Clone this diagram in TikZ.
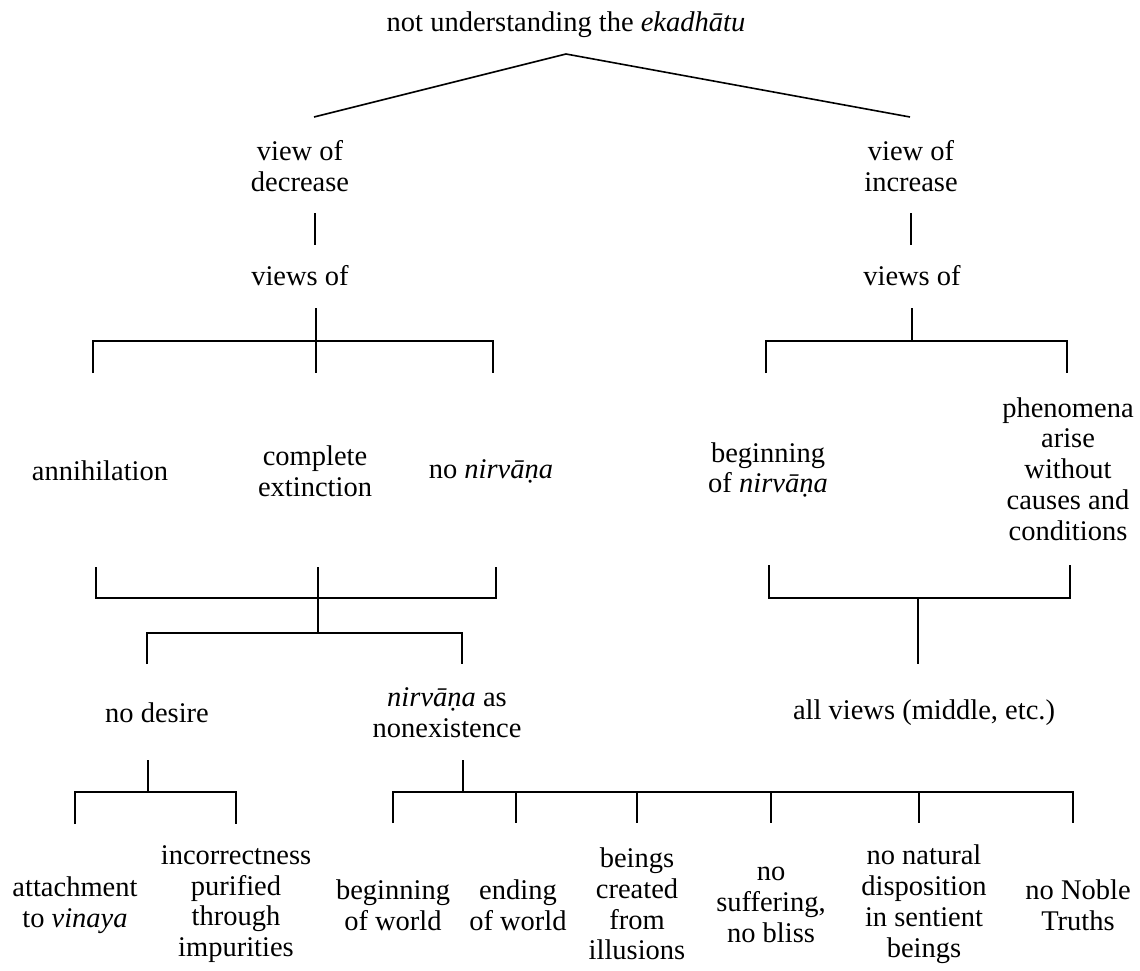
\documentclass[tikz,border=0pt]{standalone}
\usepackage{fontspec}
\setmainfont{Liberation Serif}
\usepackage{tikz}

\tikzset{lbl/.style={align=center, inner sep=0pt, font=\fontsize{14.25}{15.4}\selectfont}}

\begin{document}
\begin{tikzpicture}[x=0.5pt, y=-0.5pt, line width=0.8pt]
\useasboundingbox (0,0) rectangle (1140,970);

\node[lbl] (top) at (566,25) {not understanding the \textit{ekadhātu}};
\node[lbl] (dec) at (300,166) {view of\\decrease};
\node[lbl] (inc) at (911,166) {view of\\increase};
\node[lbl] (decv) at (300,276) {views of};
\node[lbl] (incv) at (912,276) {views of};
\node[lbl] (ann) at (100,471) {annihilation};
\node[lbl] (ext) at (315,471) {complete\\extinction};
\node[lbl] (nonirv) at (491,471) {no \textit{nirvāṇa}};
\node[lbl] (beg) at (768,470) {beginning\\of \textit{nirvāṇa}};
\node[lbl] (phen) at (1068,469) {phenomena\\arise\\without\\causes and\\conditions};
\node[lbl] (nodes) at (157,713) {no desire};
\node[lbl] (nonex) at (447,713) {\textit{nirvāṇa} as\\nonexistence};
\node[lbl] (allv) at (924,713) {all views (middle, etc.)};
\node[lbl] (attach) at (75,905) {attachment\\to \textit{vinaya}};
\node[lbl] (incorr) at (236,904) {incorrectness\\purified\\through\\impurities};
\node[lbl] (begw) at (393,905) {beginning\\of world};
\node[lbl] (endw) at (518,905) {ending\\of world};
\node[lbl] (beings) at (637,904) {beings\\created\\from\\illusions};
\node[lbl] (nosuf) at (771,905) {no\\suffering,\\no bliss};
\node[lbl] (nonat) at (924,904) {no natural\\disposition\\in sentient\\beings};
\node[lbl] (noble) at (1078,905) {no Noble\\Truths};

% line ends
\foreach \n/\x/\y in {t0/566/54, t1/314/117, t2/910/117,
  s1a/315/213, s1b/315/245, s2a/911/213, s2b/911/245,
  a0/316/308, a1/316/341, ann-t/93/373, ext-t/316/373, nonirv-t/493/373,
  b0/912/308, b1/912/341, beg-t/766/373, phen-t/1067/373,
  ann-b/96/567, ext-b/318/567, nonirv-b/496/567, c1/318/598, c2/318/633,
  nodes-t/147/664, nonex-t/462/664,
  beg-b/769/565, phen-b/1070/565, d1/918/598, allv-t/918/664,
  e0/148/760, e1/148/792, attach-t/75/824, incorr-t/236/824,
  f0/463/760, f1/463/792, begw-t/393/823, endw-t/516/823, beings-t/637/823,
  nosuf-t/771/823, nonat-t/919/823, noble-t/1073/823}
\coordinate (\n) at (\x,\y);

\draw (t1) -- (t0) -- (t2);
\foreach \i/\j in {s1a/s1b, s2a/s2b, a0/ext-t, b0/b1, ext-b/c2, d1/allv-t, e0/e1, f0/f1}
\draw (\i) -- (\j);

\draw (ann-t) |- (a1) -| (nonirv-t);
\draw (beg-t) |- (b1) -| (phen-t);
\draw (ann-b) |- (c1) -| (nonirv-b);
\draw (nodes-t) |- (c2) -| (nonex-t);
\draw (beg-b) |- (d1) -| (phen-b);
\draw (attach-t) |- (e1) -| (incorr-t);
\draw (begw-t) |- (f1) -| (noble-t);
\foreach \j in {endw-t, beings-t, nosuf-t, nonat-t}
\draw (f1 -| \j) -- (\j);

\end{tikzpicture}
\end{document}
